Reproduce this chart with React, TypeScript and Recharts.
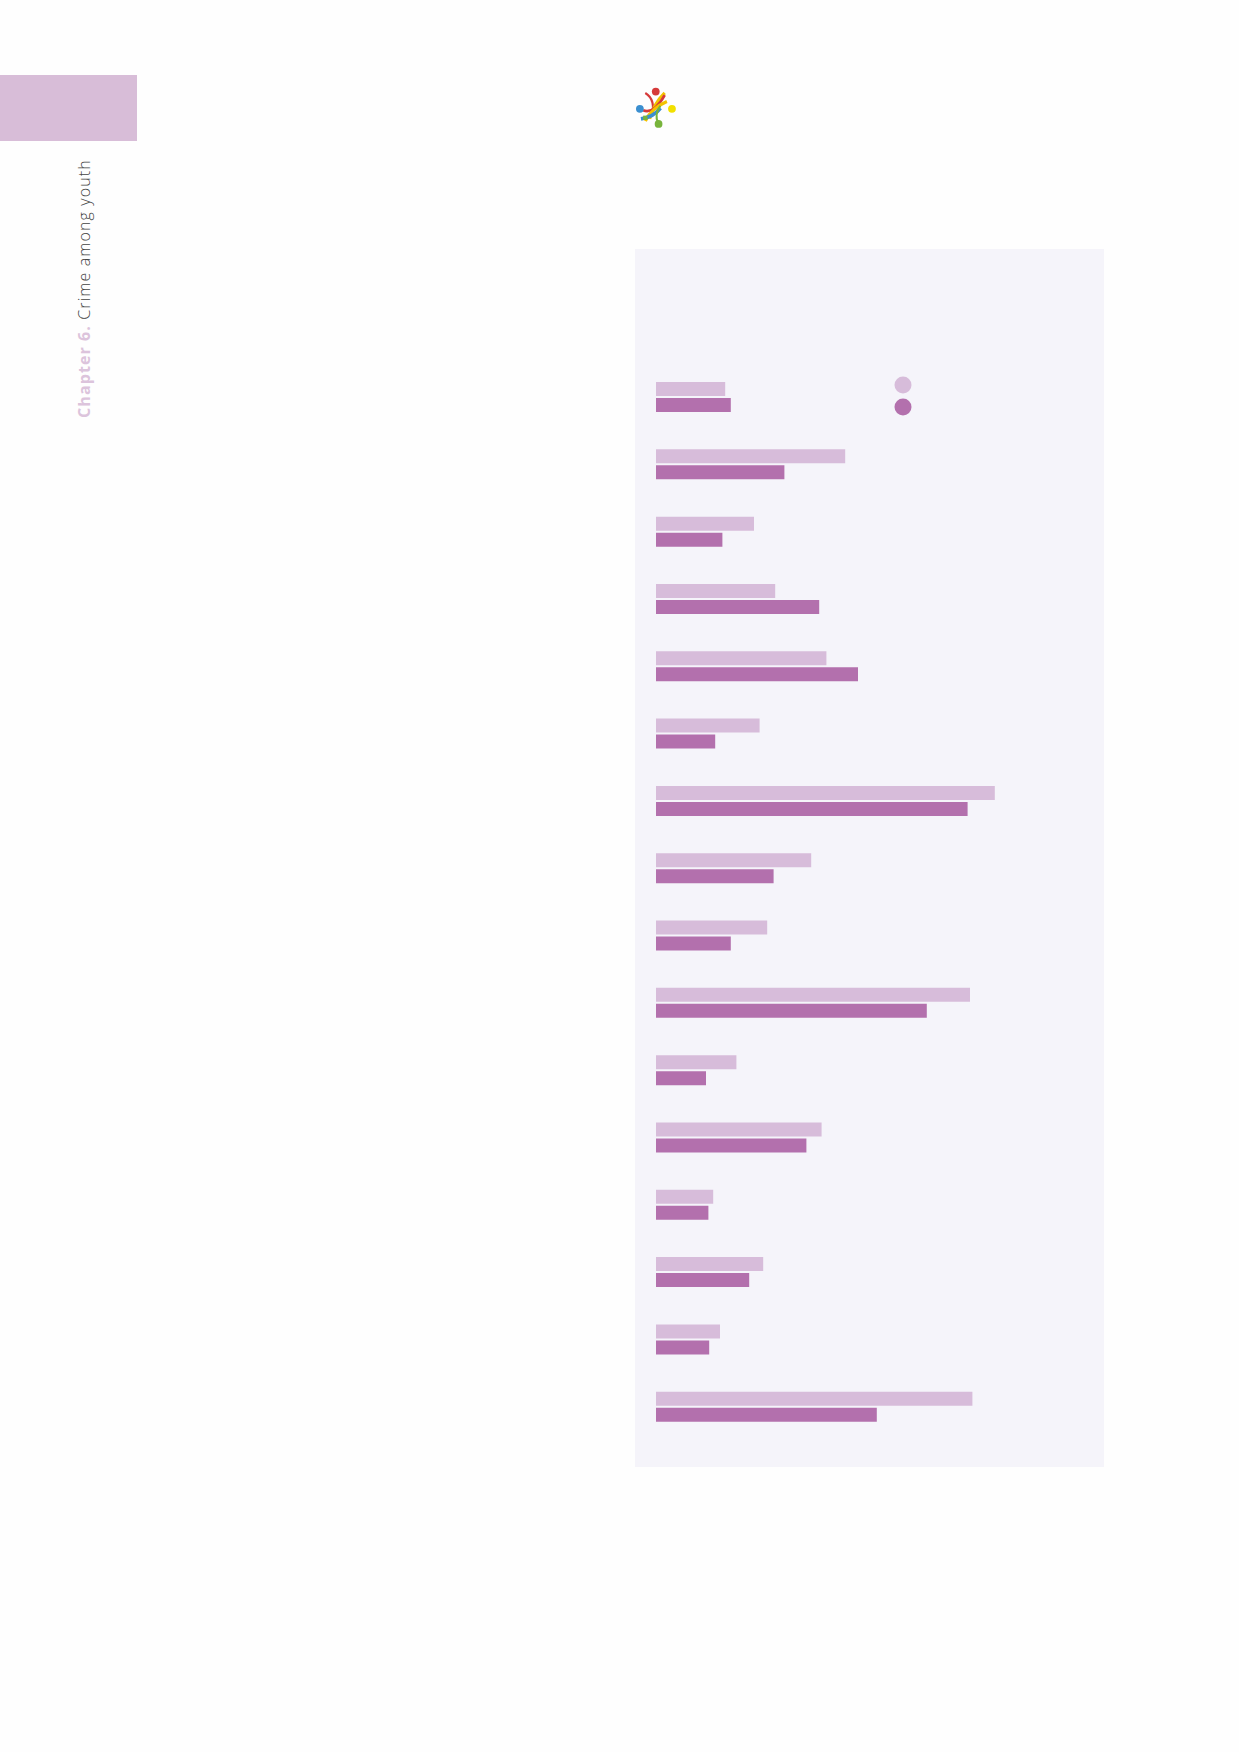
import React from 'react';
import { BarChart, Bar, XAxis, YAxis, Legend } from 'recharts';

// category labels are not printed in the source figure
const categories = [
  'c1', 'c2', 'c3', 'c4', 'c5', 'c6', 'c7', 'c8',
  'c9', 'c10', 'c11', 'c12', 'c13', 'c14', 'c15', 'c16',
];

const lightValues = [
  17.3, 47.3, 24.5, 29.8, 42.6, 25.9, 84.7, 38.8,
  27.8, 78.5, 20.1, 41.4, 14.3, 26.8, 16.0, 79.1,
];

const darkValues = [
  18.7, 32.1, 16.6, 40.8, 50.5, 14.8, 77.9, 29.4,
  18.7, 67.7, 12.5, 37.6, 13.1, 23.3, 13.3, 55.2,
];

const LIGHT = '#d7bcda';
const DARK = '#b370ad';

const data = categories.map((name, i) => ({
  name,
  light: lightValues[i],
  dark: darkValues[i],
}));

function CircleLegend(props: any) {
  const payload = [...(props.payload || [])].sort((a: any, b: any) =>
    a.dataKey === 'light' ? -1 : b.dataKey === 'light' ? 1 : 0
  );
  return (
    <svg width={24} height={46} style={{ display: 'block' }}>
      {payload.map((p: any, i: number) => (
        <circle key={i} cx={12} cy={11 + i * 22} r={8.5} fill={p.color} />
      ))}
    </svg>
  );
}

function Logo() {
  return (
    <svg width={54} height={54} viewBox="0 0 50 50" style={{ position: 'absolute', left: 628, top: 80 }}>
      <path d="M16 12 Q26 18 22 34" stroke="#d63a3a" strokeWidth={2} fill="none" />
      <path d="M34 12 Q24 22 20 36" stroke="#f2c200" strokeWidth={3} fill="none" />
      <path d="M14 28 Q24 32 34 14" stroke="#d63a3a" strokeWidth={2.5} fill="none" />
      <path d="M16 38 Q22 26 36 20" stroke="#f2c200" strokeWidth={3} fill="none" />
      <path d="M12 36 Q24 34 30 26" stroke="#3b8fd0" strokeWidth={3.5} fill="none" />
      <path d="M28 40 Q24 32 30 24" stroke="#78b43c" strokeWidth={2} fill="none" />
      <circle cx={25.7} cy={10.7} r={3.6} fill="#d63a3a" />
      <circle cx={11} cy={26.7} r={3.6} fill="#3b8fd0" />
      <circle cx={40.7} cy={26.7} r={3.6} fill="#f2e000" />
      <circle cx={28.3} cy={40.7} r={3.6} fill="#78b43c" />
      <rect x={14} y={33} width={4} height={4} fill="#78b43c" />
    </svg>
  );
}

export default function App() {
  return (
    <div
      style={{
        position: 'absolute',
        left: 0,
        top: 0,
        width: 1239,
        height: 1752,
        background: '#fefefe',
        overflow: 'hidden',
      }}
    >
      <div
        style={{
          position: 'absolute',
          left: 0,
          top: 75,
          width: 137,
          height: 66,
          background: '#d8bdd8',
        }}
      />
      <div
        style={{
          position: 'absolute',
          left: 74,
          top: 418,
          transform: 'rotate(-90deg)',
          transformOrigin: '0 0',
          whiteSpace: 'nowrap',
          fontFamily: '"Open Sans", sans-serif',
          fontSize: 16,
          letterSpacing: 1.1,
          lineHeight: '20px',
        }}
      >
        <span style={{ color: '#dcc4dc', fontWeight: 700 }}>Chapter 6.</span>
        <span style={{ color: '#444444', fontWeight: 300 }}> Crime among youth</span>
      </div>
      <Logo />
      <div
        style={{
          position: 'absolute',
          left: 635,
          top: 249,
          width: 469,
          height: 1218,
          background: '#f5f4fa',
        }}
      >
        <BarChart
          width={469}
          height={1218}
          data={data}
          layout="vertical"
          margin={{ top: 114, right: 48, left: 21, bottom: 27 }}
          barSize={14}
          barGap={2}
        >
          <XAxis type="number" domain={[0, 100]} hide />
          <YAxis type="category" dataKey="name" hide />
          <Legend
            content={CircleLegend}
            layout="vertical"
            align="center"
            verticalAlign="middle"
            wrapperStyle={{ position: 'absolute', left: 256, top: 125, width: 24, height: 46 }}
          />
          <Bar dataKey="light" fill={LIGHT} isAnimationActive={false} />
          <Bar dataKey="dark" fill={DARK} isAnimationActive={false} />
        </BarChart>
      </div>
    </div>
  );
}
